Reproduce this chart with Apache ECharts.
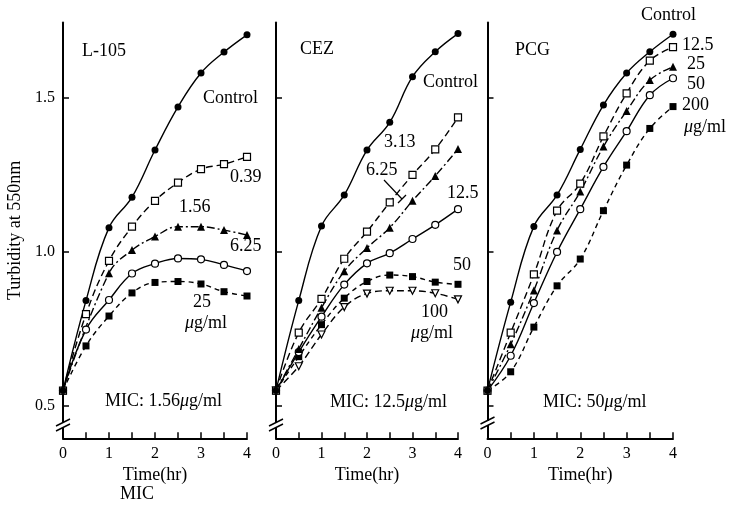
<!DOCTYPE html>
<html><head><meta charset="utf-8">
<script src="https://cdn.jsdelivr.net/npm/echarts@6/dist/echarts.min.js"></script>
<style>html,body{margin:0;padding:0;background:#fff}#c{width:732px;height:513px}</style>
</head><body><div id="c"></div><script>
// ---------- data ----------
const timeHr = [0, 0.5, 1, 1.5, 2, 2.5, 3, 3.5, 4];
const xTickValues = [0, 0.5, 1, 1.5, 2, 2.5, 3, 3.5, 4];
const xLabelValues = [0, 1, 2, 3, 4];
const yTickValues = [0.5, 1.0, 1.5];

// L-105 panel
const l105Control = [0.55, 0.842, 1.079, 1.178, 1.331, 1.471, 1.581, 1.649, 1.705];
const l105c039    = [0.55, 0.798, 0.971, 1.082, 1.166, 1.225, 1.269, 1.285, 1.309];
const l105c156    = [0.55, null, 0.931, 1.006, 1.050, 1.082, 1.082, 1.071, 1.055];
const l105c625    = [0.55, 0.748, 0.844, 0.930, 0.962, 0.979, 0.976, 0.958, 0.938];
const l105c25     = [0.55, 0.695, 0.792, 0.867, 0.901, 0.904, 0.896, 0.871, 0.857];

// CEZ panel
const cezControl = [0.55, 0.842, 1.084, 1.185, 1.331, 1.421, 1.569, 1.650, 1.709];
const cezc313    = [0.55, 0.738, 0.848, 0.978, 1.066, 1.161, 1.250, 1.333, 1.437];
const cezc625    = [0.55, 0.685, 0.819, 0.937, 1.013, 1.079, 1.166, 1.247, 1.334];
const cezc125    = [0.55, 0.675, 0.790, 0.894, 0.963, 0.996, 1.042, 1.088, 1.139];
const cezc50     = [0.55, 0.660, 0.764, 0.850, 0.904, 0.925, 0.920, 0.902, 0.895];
const cezc100    = [0.55, 0.629, 0.732, 0.821, 0.865, 0.874, 0.874, 0.866, 0.846];

// PCG panel
const pcgControl = [0.55, 0.837, 1.083, 1.185, 1.333, 1.477, 1.581, 1.650, 1.707];
const pcgc125    = [0.55, 0.738, 0.927, 1.134, 1.222, 1.375, 1.515, 1.621, 1.665];
const pcgc25     = [0.55, 0.700, 0.875, 1.070, 1.196, 1.342, 1.458, 1.558, 1.601];
const pcgc50     = [0.55, 0.663, 0.834, 1.000, 1.139, 1.276, 1.392, 1.509, 1.564];
const pcgc200    = [0.55, 0.611, 0.756, 0.890, 0.977, 1.134, 1.282, 1.401, 1.472];

// ---------- styles ----------
const FONT = 'Liberation Serif';
const MARK = {
  fillCircle: {symbol: 'circle', size: 7, fill: '#000', rot: 0},
  openCircle: {symbol: 'circle', size: 7, fill: '#fff', rot: 0},
  openSquare: {symbol: 'rect', size: 7, fill: '#fff', rot: 0},
  fillSquare: {symbol: 'rect', size: 7, fill: '#000', rot: 0},
  fillTri:    {symbol: 'triangle', size: 8, fill: '#000', rot: 0},
  openInvTri: {symbol: 'triangle', size: 7, fill: '#fff', rot: 180}
};
const DASH = {
  solid: 'solid',
  longDash: [7, 4],
  dashDot: [8, 3, 2, 3],
  shortDash: [5, 4]
};

function mk(panel, values, mark, dash) {
  const m = MARK[mark];
  return {
    type: 'line', xAxisIndex: panel, yAxisIndex: panel,
    data: timeHr.map((t, i) => [t, values[i]]),
    connectNulls: true,
    smooth: 0.4,
    symbol: m.symbol, symbolSize: m.size, symbolRotate: m.rot,
    showAllSymbol: true,
    itemStyle: {color: m.fill, borderColor: '#000', borderWidth: m.fill === '#fff' ? 1.2 : 0},
    lineStyle: {color: '#000', width: 1.4, type: DASH[dash]},
    emphasis: {disabled: true},
    z: 3
  };
}

const series = [
  mk(0, l105c25, 'fillSquare', 'shortDash'),
  mk(0, l105c625, 'openCircle', 'solid'),
  mk(0, l105c156, 'fillTri', 'dashDot'),
  mk(0, l105c039, 'openSquare', 'longDash'),
  mk(0, l105Control, 'fillCircle', 'solid'),

  mk(1, cezc100, 'openInvTri', 'longDash'),
  mk(1, cezc50, 'fillSquare', 'shortDash'),
  mk(1, cezc125, 'openCircle', 'solid'),
  mk(1, cezc625, 'fillTri', 'dashDot'),
  mk(1, cezc313, 'openSquare', 'longDash'),
  mk(1, cezControl, 'fillCircle', 'solid'),

  mk(2, pcgc200, 'fillSquare', 'shortDash'),
  mk(2, pcgc50, 'openCircle', 'solid'),
  mk(2, pcgc25, 'fillTri', 'dashDot'),
  mk(2, pcgc125, 'openSquare', 'longDash'),
  mk(2, pcgControl, 'fillCircle', 'solid')
];

const grids = [
  {left: 63, top: 22.5, width: 184, height: 415.8},
  {left: 276, top: 22.5, width: 182, height: 415.8},
  {left: 487.5, top: 22.5, width: 185.5, height: 415.8}
];

const xAxes = grids.map((g, i) => ({
  type: 'value', gridIndex: i, min: 0, max: 4,
  axisLine: {show: true, lineStyle: {color: '#000', width: 2}},
  axisTick: {show: true, inside: true, length: 6, customValues: xTickValues, lineStyle: {color: '#000', width: 1.5}},
  axisLabel: {customValues: xLabelValues, color: '#000', fontFamily: FONT, fontSize: 16, margin: 7},
  splitLine: {show: false},
  name: 'Time(hr)', nameLocation: 'middle', nameGap: 24,
  nameTextStyle: {fontFamily: FONT, fontSize: 18, color: '#000'}
}));

const yAxes = grids.map((g, i) => ({
  type: 'value', gridIndex: i, min: 0.395, max: 1.745,
  axisLine: {show: true, lineStyle: {color: '#000', width: 2}},
  axisTick: {show: true, inside: true, length: 6, customValues: yTickValues, lineStyle: {color: '#000', width: 1.5}},
  axisLabel: {show: i === 0, customValues: yTickValues, formatter: v => v.toFixed(1), color: '#000', fontFamily: FONT, fontSize: 16, margin: 8},
  splitLine: {show: false},
  name: i === 0 ? 'Turbidity at 550nm' : '', nameLocation: 'middle', nameGap: 39,
  nameTextStyle: {fontFamily: FONT, fontSize: 18, color: '#000'}
}));

// ---------- annotations ----------
const RICH = {i: {fontStyle: 'italic', fontFamily: FONT, fontSize: 18, fill: '#000'}};
function txt(x, y, text) {
  return {type: 'text', x: x, y: y, z: 50, silent: true,
    style: {text: text, fontFamily: FONT, fontSize: 18, fill: '#000', align: 'left', verticalAlign: 'middle', rich: RICH}};
}
function ln(x1, y1, x2, y2, w, col) {
  return {type: 'line', z: 60, silent: true, shape: {x1, y1, x2, y2}, style: {stroke: col || '#000', lineWidth: w || 1.2}};
}
function brk(x, y) {
  return [
    {type: 'rect', z: 55, silent: true, shape: {x: x - 3, y: y - 2, width: 6, height: 4}, style: {fill: '#fff'}},
    ln(x - 7, y + 1, x + 7, y - 6, 1.5),
    ln(x - 7, y + 6, x + 7, y - 1, 1.5)
  ];
}

const graphics = [
  txt(82, 51, 'L-105'),
  txt(203, 98, 'Control'),
  txt(230, 177, '0.39'),
  txt(179, 207, '1.56'),
  txt(230, 246, '6.25'),
  txt(193, 302, '25'),
  txt(185, 323, '{i|μ}g/ml'),
  txt(105, 401, 'MIC: 1.56{i|μ}g/ml'),
  txt(120, 494, 'MIC'),

  txt(300, 49, 'CEZ'),
  txt(423, 82, 'Control'),
  txt(384, 142, '3.13'),
  txt(366, 170, '6.25'),
  ln(384, 180, 402, 199, 1.2),
  ln(398, 203, 406, 195, 1.2),
  txt(447, 193, '12.5'),
  txt(453, 265, '50'),
  txt(421, 312, '100'),
  txt(411, 333, '{i|μ}g/ml'),
  txt(330, 402, 'MIC: 12.5{i|μ}g/ml'),

  txt(515, 50, 'PCG'),
  txt(641, 15, 'Control'),
  txt(682, 45, '12.5'),
  txt(687, 64, '25'),
  txt(687, 84, '50'),
  txt(682, 105, '200'),
  txt(684, 127, '{i|μ}g/ml'),
  txt(543, 402, 'MIC: 50{i|μ}g/ml'),

  ...brk(63, 425),
  ...brk(276, 425),
  ...brk(487.5, 423)
];

const chart = echarts.init(document.getElementById('c'), null, {renderer: 'canvas'});
chart.setOption({
  animation: false,
  backgroundColor: '#fff',
  grid: grids,
  xAxis: xAxes,
  yAxis: yAxes,
  series: series,
  graphic: graphics
});
</script></body></html>
